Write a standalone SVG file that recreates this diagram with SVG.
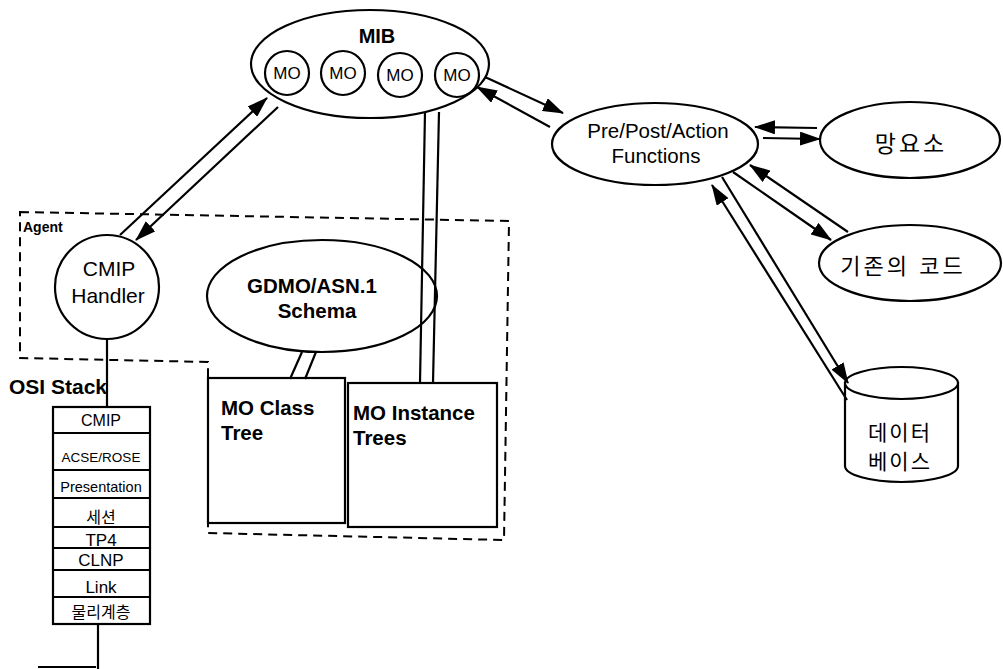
<svg xmlns="http://www.w3.org/2000/svg" width="1003" height="669" viewBox="0 0 1003 669">
<defs>
<style>
.s{fill:#fff;stroke:#000;stroke-width:2.2}
.n{fill:none;stroke:#000;stroke-width:2.2}
.c{stroke:#000;stroke-width:2.2;fill:none}
.d{fill:none;stroke:#000;stroke-width:2;stroke-dasharray:9,6}
.t{font-family:"Liberation Sans",Arial,sans-serif;fill:#000}
.b{font-weight:bold}
.k{font-family:"Liberation Sans","Noto Sans CJK KR",sans-serif;fill:#000}
</style>
<marker id="ah" markerUnits="userSpaceOnUse" markerWidth="21" markerHeight="14" refX="20" refY="7" orient="auto">
<path d="M0,0 L21,7 L0,14 z" fill="#000"/>
</marker>
</defs>
<rect width="1003" height="669" fill="#fff"/>

<g id="agent-boundary">
<path class="d" d="M20,212 L509,221 L504,540 L208,533 L208,362 L20,358 Z"/>
<text class="t b" x="23" y="232" font-size="14">Agent</text>
</g>

<g id="mib">
<ellipse class="s" cx="370" cy="64" rx="119" ry="54"/>
<text class="t b" x="377" y="43" font-size="20" text-anchor="middle">MIB</text>
<circle class="s" cx="287" cy="73" r="22"/>
<text class="t" x="287" y="79" font-size="17" text-anchor="middle">MO</text>
<circle class="s" cx="343" cy="73" r="22"/>
<text class="t" x="343" y="79" font-size="17" text-anchor="middle">MO</text>
<circle class="s" cx="400" cy="75" r="22"/>
<text class="t" x="400" y="81" font-size="17" text-anchor="middle">MO</text>
<circle class="s" cx="457" cy="75" r="22"/>
<text class="t" x="457" y="81" font-size="17" text-anchor="middle">MO</text>
</g>

<g id="cmip-handler">
<circle class="s" cx="107" cy="287" r="52"/>
<text class="t" x="109" y="276" font-size="21" text-anchor="middle">CMIP</text>
<text class="t" x="108" y="303" font-size="21" text-anchor="middle">Handler</text>
</g>

<g id="gdmo-schema">
<ellipse class="s" cx="322" cy="296" rx="115" ry="56"/>
<text class="t b" x="312" y="293" font-size="20.5" text-anchor="middle">GDMO/ASN.1</text>
<text class="t b" x="317" y="318" font-size="20.5" text-anchor="middle">Schema</text>
</g>

<g id="mo-class-tree">
<rect class="s" x="208" y="378" width="137" height="145"/>
<text class="t b" x="221" y="415" font-size="20.5">MO Class</text>
<text class="t b" x="221" y="440" font-size="20.5">Tree</text>
</g>

<g id="mo-instance-trees">
<rect class="s" x="348" y="383" width="149" height="144"/>
<text class="t b" x="353" y="420" font-size="20.5">MO Instance</text>
<text class="t b" x="353" y="445" font-size="20.5">Trees</text>
</g>

<g id="osi-stack">
<text class="t b" x="107" y="394" font-size="21" text-anchor="end">OSI Stack</text>
<rect class="s" x="53" y="407" width="97" height="217"/>
<path class="n" d="M53,433 H150 M53,470 H150 M53,498 H150 M53,527 H150 M53,548 H150 M53,570 H150 M53,597 H150"/>
<text class="t" x="101" y="426" font-size="16" text-anchor="middle">CMIP</text>
<text class="t" x="101" y="462" font-size="13.5" text-anchor="middle">ACSE/ROSE</text>
<text class="t" x="101" y="492" font-size="14.5" text-anchor="middle">Presentation</text>
<text class="k" x="101" y="523" font-size="16" text-anchor="middle">세션</text>
<text class="t" x="101" y="546" font-size="17" text-anchor="middle">TP4</text>
<text class="t" x="101" y="566" font-size="17" text-anchor="middle">CLNP</text>
<text class="t" x="101" y="593" font-size="17" text-anchor="middle">Link</text>
<text class="k" x="101" y="618" font-size="16" text-anchor="middle">물리계층</text>
</g>

<g id="pre-post-action">
<ellipse class="s" cx="655" cy="144" rx="103" ry="41"/>
<text class="t" x="658" y="138" font-size="20.5" text-anchor="middle">Pre/Post/Action</text>
<text class="t" x="656" y="163" font-size="20.5" text-anchor="middle">Functions</text>
</g>

<g id="network-element">
<ellipse class="s" cx="910" cy="140" rx="90" ry="38"/>
<text class="k" x="911" y="152" font-size="23" letter-spacing="3" text-anchor="middle">망요소</text>
</g>

<g id="legacy-code">
<ellipse class="s" cx="910" cy="263" rx="91" ry="38"/>
<text class="k" x="903" y="274" font-size="22" letter-spacing="3" text-anchor="middle">기존의  코드</text>
</g>

<g id="database">
<path class="s" d="M845,383 L845,466 A56.5,16 0 0 0 958,466 L958,383 Z"/>
<ellipse class="s" cx="901.5" cy="383" rx="56.5" ry="16"/>
<text class="k" x="900" y="440" font-size="21" letter-spacing="2" text-anchor="middle">데이터</text>
<text class="k" x="900" y="469" font-size="21" letter-spacing="2" text-anchor="middle">베이스</text>
</g>

<g id="connectors">
<path class="c" d="M107,339 L107,407"/>
<path class="c" d="M98,624 L98,669"/>
<path class="c" d="M38,667 L96,667"/>
<path class="c" d="M425,112 L420,383"/>
<path class="c" d="M439,112 L433,383"/>
<path class="c" d="M302,352 L290,379"/>
<path class="c" d="M316,352 L305,379"/>
<path class="c" d="M120,235 L267,98" marker-end="url(#ah)"/>
<path class="c" d="M278,107 L136,240" marker-end="url(#ah)"/>
<path class="c" d="M485,77 L563,113" marker-end="url(#ah)"/>
<path class="c" d="M550,127 L477,87" marker-end="url(#ah)"/>
<path class="c" d="M817,128 L755,127" marker-end="url(#ah)"/>
<path class="c" d="M763,138 L820,139" marker-end="url(#ah)"/>
<path class="c" d="M848,232 L750,165" marker-end="url(#ah)"/>
<path class="c" d="M733,172 L831,240" marker-end="url(#ah)"/>
<path class="c" d="M847,400 L712,185" marker-end="url(#ah)"/>
<path class="c" d="M722,177 L848,383" marker-end="url(#ah)"/>
</g>
</svg>
